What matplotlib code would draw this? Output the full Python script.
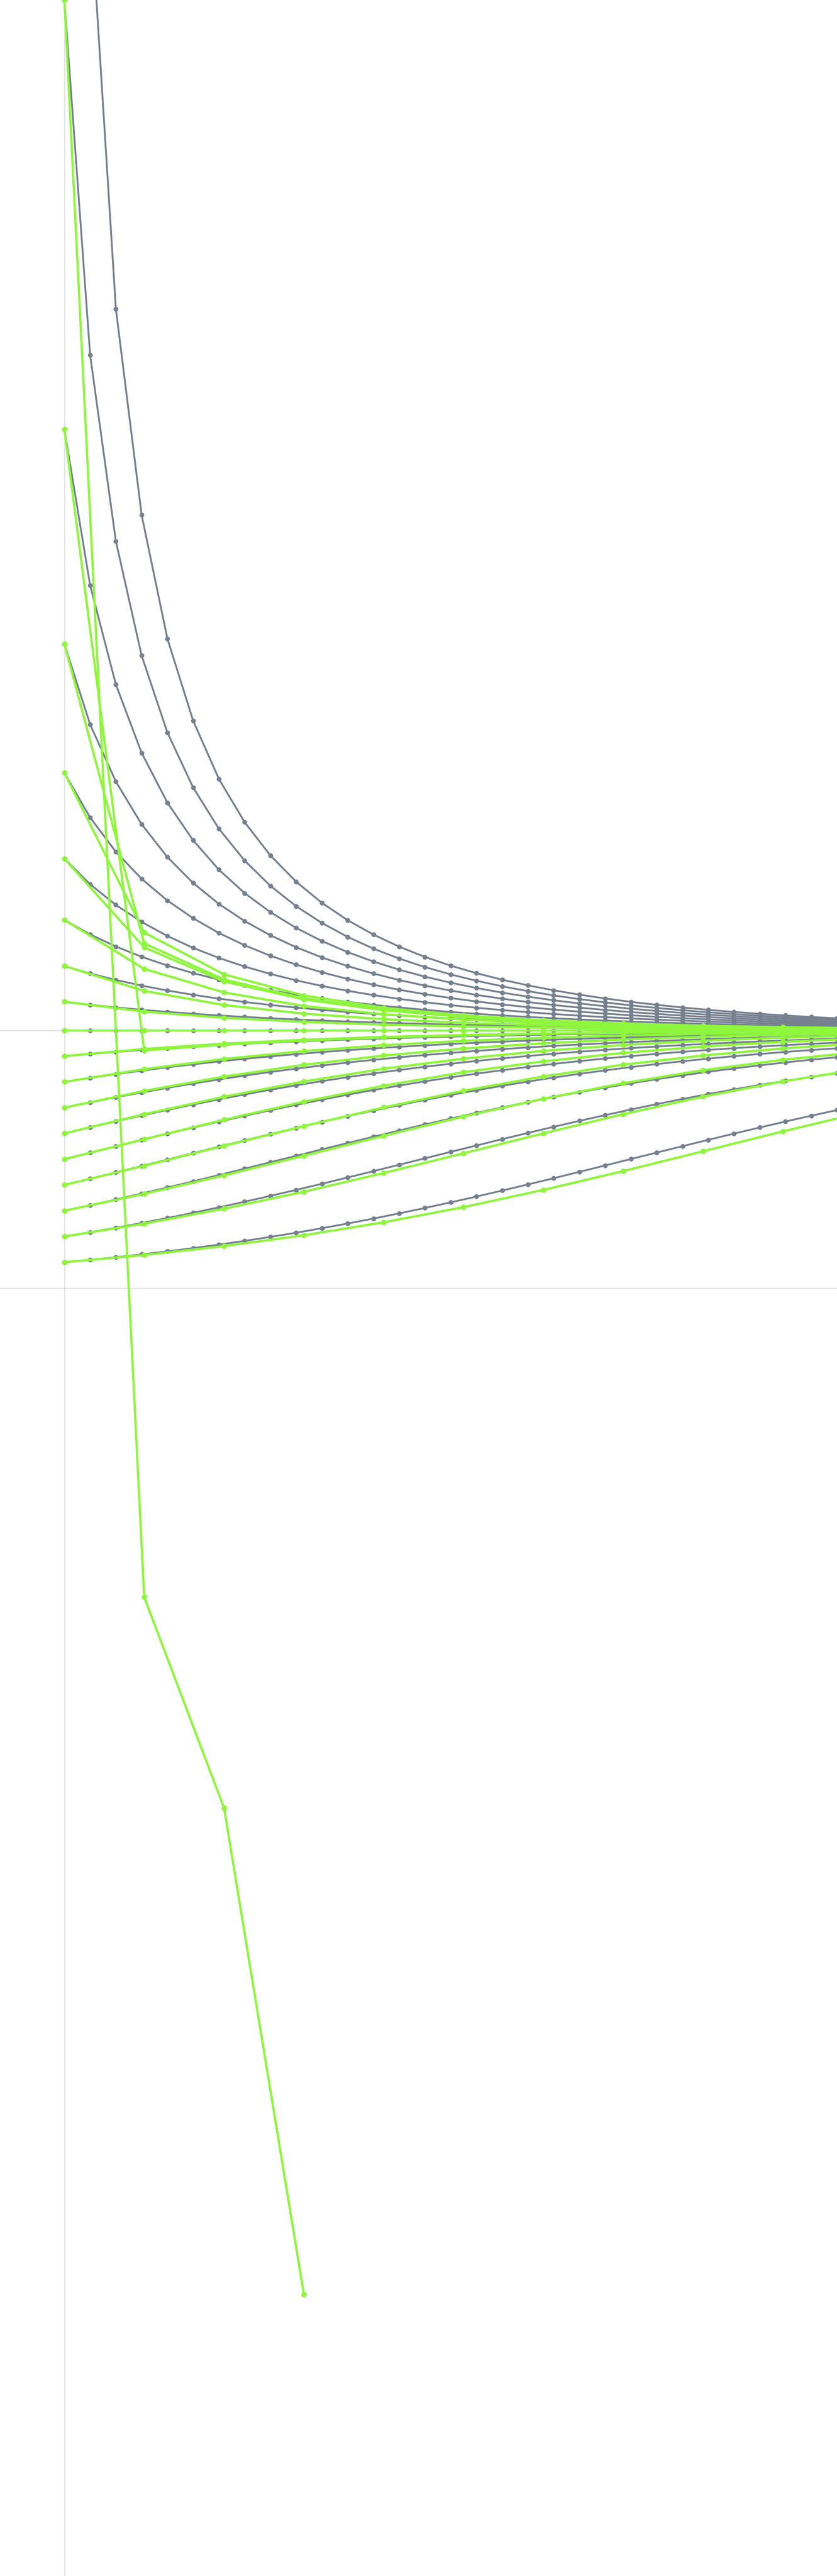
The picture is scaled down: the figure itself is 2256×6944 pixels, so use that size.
import matplotlib
matplotlib.use("Agg")
import matplotlib.pyplot as plt

# === Sample times ===
t_exact = [0.0, 0.1, 0.2, 0.3, 0.4, 0.5, 0.6, 0.7, 0.8, 0.9, 1.0,
           1.1, 1.2, 1.3, 1.4, 1.5, 1.6, 1.7, 1.8, 1.9, 2.0,
           2.1, 2.2, 2.3, 2.4, 2.5, 2.6, 2.7, 2.8, 2.9, 3.0]
t_euler = [0.0, 0.31, 0.62, 0.93, 1.24, 1.55, 1.86, 2.17, 2.48, 2.79, 3.1]

# === Reference solutions (grey), one row per starting value ===
exact_above = [
    [0.1111, 0.0995, 0.0892, 0.0800, 0.0719, 0.0646, 0.0581, 0.0523, 0.0471, 0.0424, 0.0382,
     0.0344, 0.0311, 0.0280, 0.0253, 0.0228, 0.0206, 0.0186, 0.0168, 0.0152, 0.0137,
     0.0124, 0.0112, 0.0101, 0.0092, 0.0083, 0.0075, 0.0068, 0.0061, 0.0055, 0.0050],
    [0.25, 0.2210, 0.1958, 0.1739, 0.1548, 0.1381, 0.1233, 0.1103, 0.0987, 0.0885, 0.0794,
     0.0713, 0.0641, 0.0576, 0.0519, 0.0467, 0.0421, 0.0379, 0.0342, 0.0308, 0.0278,
     0.0251, 0.0227, 0.0205, 0.0185, 0.0167, 0.0151, 0.0136, 0.0123, 0.0111, 0.0101],
    [0.4286, 0.3726, 0.3256, 0.2858, 0.2517, 0.2224, 0.1971, 0.1751, 0.1558, 0.1389, 0.1241,
     0.1109, 0.0993, 0.0890, 0.0799, 0.0717, 0.0645, 0.0580, 0.0522, 0.0470, 0.0423,
     0.0381, 0.0344, 0.0310, 0.0280, 0.0252, 0.0228, 0.0206, 0.0186, 0.0168, 0.0152],
    [0.6667, 0.5672, 0.4870, 0.4211, 0.3664, 0.3203, 0.2813, 0.2479, 0.2191, 0.1942, 0.1725,
     0.1536, 0.1370, 0.1224, 0.1094, 0.0980, 0.0879, 0.0788, 0.0708, 0.0636, 0.0572,
     0.0515, 0.0464, 0.0418, 0.0377, 0.0339, 0.0306, 0.0276, 0.0249, 0.0225, 0.0203],
    [1.0, 0.8262, 0.6931, 0.5883, 0.5041, 0.4353, 0.3782, 0.3303, 0.2898, 0.2552, 0.2254,
     0.1997, 0.1773, 0.1578, 0.1406, 0.1256, 0.1123, 0.1005, 0.0901, 0.0808, 0.0726,
     0.0652, 0.0587, 0.0528, 0.0475, 0.0428, 0.0386, 0.0348, 0.0314, 0.0283, 0.0255],
    [1.5, 1.1877, 0.9656, 0.8001, 0.6728, 0.5721, 0.4910, 0.4244, 0.3691, 0.3227, 0.2832,
     0.2496, 0.2206, 0.1955, 0.1737, 0.1546, 0.1378, 0.1231, 0.1101, 0.0986, 0.0884,
     0.0793, 0.0712, 0.0640, 0.0576, 0.0518, 0.0466, 0.0420, 0.0379, 0.0341, 0.0308],
    [2.3333, 1.7277, 1.3425, 1.0772, 0.8840, 0.7378, 0.6238, 0.5328, 0.4589, 0.3978, 0.3468,
     0.3038, 0.2672, 0.2357, 0.2086, 0.1851, 0.1646, 0.1466, 0.1309, 0.1169, 0.1046,
     0.0938, 0.0841, 0.0755, 0.0678, 0.0610, 0.0548, 0.0494, 0.0445, 0.0401, 0.0361],
    [4.0, 2.6215, 1.8984, 1.4549, 1.1564, 0.9426, 0.7827, 0.6591, 0.5612, 0.4820, 0.4170,
     0.3629, 0.3174, 0.2788, 0.2458, 0.2173, 0.1926, 0.1712, 0.1524, 0.1359, 0.1214,
     0.1086, 0.0973, 0.0872, 0.0783, 0.0703, 0.0632, 0.0568, 0.0511, 0.0460, 0.0415],
    [9.0, 4.3866, 2.8003, 2.0006, 1.5207, 1.2021, 0.9760, 0.8081, 0.6790, 0.5771, 0.4950,
     0.4277, 0.3719, 0.3250, 0.2852, 0.2513, 0.2221, 0.1968, 0.1748, 0.1556, 0.1387,
     0.1239, 0.1108, 0.0992, 0.0889, 0.0798, 0.0716, 0.0644, 0.0579, 0.0521, 0.0469],
]
exact_zero = [0.0, 0.0, 0.0, 0.0, 0.0, 0.0, 0.0, 0.0, 0.0, 0.0, 0.0,
              0.0, 0.0, 0.0, 0.0, 0.0, 0.0, 0.0, 0.0, 0.0, 0.0,
              0.0, 0.0, 0.0, 0.0, 0.0, 0.0, 0.0, 0.0, 0.0, 0.0]
exact_below = [
    [-0.1, -0.0914, -0.0834, -0.0761, -0.0693, -0.0631, -0.0575, -0.0523, -0.0476, -0.0432, -0.0393,
     -0.0357, -0.0324, -0.0294, -0.0267, -0.0242, -0.0219, -0.0199, -0.0180, -0.0163, -0.0148,
     -0.0134, -0.0122, -0.0110, -0.0100, -0.0090, -0.0082, -0.0074, -0.0067, -0.0061, -0.0055],
    [-0.2, -0.1845, -0.1699, -0.1563, -0.1435, -0.1317, -0.1206, -0.1104, -0.1010, -0.0923, -0.0842,
     -0.0768, -0.0700, -0.0638, -0.0581, -0.0528, -0.0480, -0.0437, -0.0397, -0.0360, -0.0327,
     -0.0297, -0.0270, -0.0245, -0.0222, -0.0201, -0.0182, -0.0165, -0.0150, -0.0136, -0.0123],
    [-0.3, -0.2794, -0.2597, -0.2410, -0.2232, -0.2063, -0.1904, -0.1755, -0.1615, -0.1484, -0.1362,
     -0.1248, -0.1143, -0.1046, -0.0956, -0.0873, -0.0796, -0.0726, -0.0662, -0.0602, -0.0548,
     -0.0499, -0.0453, -0.0412, -0.0374, -0.0340, -0.0308, -0.0280, -0.0254, -0.0230, -0.0209],
    [-0.4, -0.3763, -0.3531, -0.3306, -0.3089, -0.2879, -0.2679, -0.2487, -0.2305, -0.2132, -0.1970,
     -0.1816, -0.1672, -0.1538, -0.1412, -0.1295, -0.1186, -0.1086, -0.0993, -0.0907, -0.0828,
     -0.0755, -0.0688, -0.0627, -0.0570, -0.0519, -0.0472, -0.0429, -0.0390, -0.0354, -0.0321],
    [-0.5, -0.4750, -0.4502, -0.4256, -0.4013, -0.3775, -0.3543, -0.3318, -0.3100, -0.2891, -0.2689,
     -0.2497, -0.2315, -0.2142, -0.1978, -0.1824, -0.1680, -0.1545, -0.1419, -0.1301, -0.1192,
     -0.1091, -0.0998, -0.0911, -0.0832, -0.0759, -0.0691, -0.0630, -0.0573, -0.0522, -0.0474],
    [-0.6, -0.5758, -0.5512, -0.5263, -0.5014, -0.4764, -0.4515, -0.4269, -0.4026, -0.3788, -0.3556,
     -0.3330, -0.3112, -0.2902, -0.2700, -0.2508, -0.2324, -0.2151, -0.1987, -0.1832, -0.1687,
     -0.1552, -0.1425, -0.1307, -0.1198, -0.1096, -0.1002, -0.0916, -0.0836, -0.0762, -0.0695],
    [-0.7, -0.6786, -0.6564, -0.6335, -0.6100, -0.5860, -0.5615, -0.5368, -0.5118, -0.4868, -0.4619,
     -0.4372, -0.4127, -0.3887, -0.3652, -0.3424, -0.3202, -0.2989, -0.2783, -0.2587, -0.2400,
     -0.2222, -0.2054, -0.1896, -0.1747, -0.1607, -0.1477, -0.1356, -0.1243, -0.1138, -0.1041],
    [-0.8, -0.7835, -0.7661, -0.7477, -0.7284, -0.7081, -0.6870, -0.6651, -0.6425, -0.6192, -0.5954,
     -0.5711, -0.5464, -0.5216, -0.4966, -0.4716, -0.4468, -0.4222, -0.3980, -0.3743, -0.3512,
     -0.3288, -0.3071, -0.2862, -0.2663, -0.2472, -0.2290, -0.2119, -0.1957, -0.1804, -0.1661],
    [-0.9, -0.8906, -0.8805, -0.8696, -0.8578, -0.8452, -0.8316, -0.8172, -0.8017, -0.7854, -0.7680,
     -0.7497, -0.7305, -0.7104, -0.6894, -0.6676, -0.6450, -0.6218, -0.5980, -0.5738, -0.5491,
     -0.5243, -0.4993, -0.4743, -0.4495, -0.4249, -0.4006, -0.3769, -0.3537, -0.3312, -0.3094],
]

# === Coarse-step approximations (green) ===
euler_above = [
    [0.1111, 0.0728, 0.0486, 0.0328, 0.0223, 0.0152, 0.0104, 0.0072, 0.0049, 0.0034, 0.0023],
    [0.25, 0.1531, 0.0984, 0.0649, 0.0435, 0.0294, 0.0200, 0.0137, 0.0094, 0.0065, 0.0044],
    [0.4286, 0.2388, 0.1471, 0.0948, 0.0626, 0.0420, 0.0284, 0.0194, 0.0132, 0.0091, 0.0062],
    [0.6667, 0.3222, 0.1901, 0.1200, 0.0783, 0.0521, 0.0351, 0.0239, 0.0163, 0.0112, 0.0077],
    [1.0, 0.38, 0.2174, 0.1354, 0.0877, 0.0581, 0.0391, 0.0265, 0.0181, 0.0124, 0.0085],
    [1.5, 0.3375, 0.1976, 0.1242, 0.0809, 0.0538, 0.0362, 0.0246, 0.0168, 0.0115, 0.0079],
    [2.3333, -0.0778, -0.0555, -0.0393, -0.0276, -0.0193, -0.0134, -0.0093, -0.0064, -0.0045, -0.0031],
    [4.0, -2.2, -3.0184, -4.9070],
]
euler_zero = [0.0, 0.0, 0.0, 0.0, 0.0, 0.0, 0.0, 0.0, 0.0, 0.0, 0.0]
euler_below = [
    [-0.1, -0.0721, -0.0514, -0.0363, -0.0254, -0.0177, -0.0123, -0.0086, -0.0059, -0.0041, -0.0028],
    [-0.2, -0.1504, -0.1108, -0.0802, -0.0574, -0.0406, -0.0285, -0.0199, -0.0139, -0.0096, -0.0067],
    [-0.3, -0.2349, -0.1792, -0.1336, -0.0977, -0.0704, -0.0501, -0.0353, -0.0248, -0.0173, -0.0120],
    [-0.4, -0.3256, -0.2575, -0.1983, -0.1490, -0.1097, -0.0794, -0.0567, -0.0402, -0.0282, -0.0197],
    [-0.5, -0.4225, -0.3469, -0.2766, -0.2146, -0.1624, -0.1202, -0.0874, -0.0627, -0.0445, -0.0313],
    [-0.6, -0.5256, -0.4483, -0.3716, -0.2992, -0.2342, -0.1786, -0.1331, -0.0974, -0.0701, -0.0499],
    [-0.7, -0.6349, -0.5630, -0.4868, -0.4093, -0.3344, -0.2654, -0.2049, -0.1544, -0.1140, -0.0827],
    [-0.8, -0.7504, -0.6923, -0.6263, -0.5537, -0.4771, -0.3998, -0.3254, -0.2574, -0.1981, -0.1489],
    [-0.9, -0.8721, -0.8375, -0.7953, -0.7449, -0.6860, -0.6192, -0.5461, -0.4692, -0.3920, -0.3182],
]

GREY = "#76818f"
GREEN = "#8ef63c"
AXIS = "#bdbdbd"

fig = plt.figure(figsize=(22.56, 69.44), dpi=100)
ax = fig.add_axes([0, 0, 1, 1])
ax.set_xlim(-0.25, 3.0)
ax.set_ylim(-6, 4)
ax.axis("off")

# thin reference lines
ax.axvline(0, color=AXIS, lw=0.8, zorder=0)
ax.axhline(0, color=AXIS, lw=0.8, zorder=0)
ax.axhline(-1, color=AXIS, lw=0.8, zorder=0)

line_kw = dict(marker="o", mew=0, solid_joinstyle="round", solid_capstyle="round")

# grey curves first
for row in exact_above + [exact_zero] + exact_below:
    ax.plot(t_exact, row, color=GREY, lw=3.5, ms=9.4, zorder=2, **line_kw)

# green curves on top
for row in euler_above + [euler_zero] + euler_below:
    ax.plot(t_euler[:len(row)], row, color=GREEN, lw=4.4, ms=10.6, zorder=3, **line_kw)

fig.savefig("out.png", dpi=100)
plt.close(fig)
